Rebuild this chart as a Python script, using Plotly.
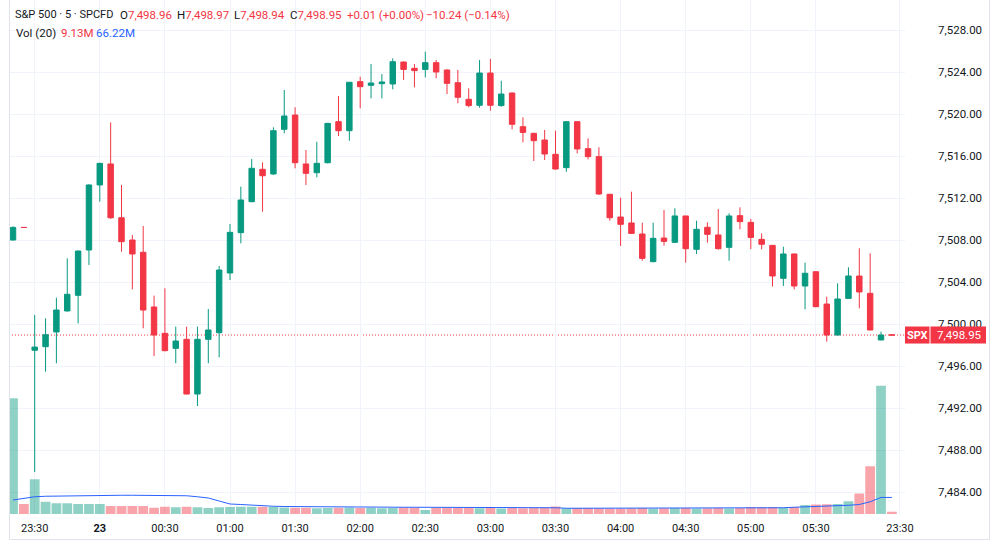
import plotly.graph_objects as go

# ---------------- data ----------------
opens = [7508.00, 7509.20, 7497.50, 7497.84, 7499.24, 7501.24, 7502.73, 7507.05, 7513.24, 7515.24,
         7510.12, 7508.00, 7506.83, 7501.62, 7499.11, 7497.68, 7498.54, 7493.33, 7498.54, 7499.17,
         7504.86, 7508.70, 7511.65, 7514.73, 7514.29, 7518.54, 7519.90, 7515.24, 7514.41, 7515.36,
         7519.27, 7518.41, 7523.08, 7522.73, 7522.89, 7522.86, 7524.95, 7524.35, 7524.25, 7524.89,
         7524.19, 7522.98, 7521.40, 7520.83, 7523.90, 7520.80, 7522.00, 7518.79, 7518.16, 7517.52,
         7516.16, 7514.89, 7519.27, 7516.70, 7515.94, 7512.35, 7510.19, 7509.62, 7508.57, 7505.94,
         7508.19, 7507.78, 7510.29, 7507.11, 7509.21, 7508.48, 7507.30, 7510.32, 7509.68, 7508.06,
         7507.49, 7504.35, 7506.67, 7503.62, 7504.98, 7501.90, 7498.95, 7502.44, 7504.57, 7502.92,
         7498.48, 7498.96]
highs = [7509.30, 7509.22, 7500.86, 7500.54, 7502.50, 7506.25, 7507.00, 7513.30, 7515.35, 7519.20,
         7513.24, 7508.48, 7509.33, 7502.70, 7503.40, 7499.75, 7499.75, 7499.75, 7501.43, 7505.52,
         7509.52, 7513.08, 7515.71, 7515.40, 7518.73, 7522.29, 7520.64, 7516.57, 7517.36, 7519.15,
         7521.71, 7523.05, 7523.55, 7524.76, 7523.81, 7525.30, 7525.00, 7524.76, 7525.93, 7525.14,
         7524.25, 7524.19, 7522.44, 7525.14, 7525.24, 7523.17, 7522.05, 7519.68, 7518.20, 7518.48,
         7518.41, 7519.30, 7519.30, 7517.68, 7516.83, 7512.40, 7512.03, 7512.60, 7509.65, 7509.65,
         7510.86, 7511.02, 7510.30, 7509.84, 7509.68, 7510.95, 7510.54, 7511.11, 7510.00, 7508.63,
         7507.50, 7507.36, 7506.70, 7505.84, 7505.00, 7502.60, 7503.87, 7505.40, 7507.21, 7506.73,
         7499.27, 7498.97]
lows = [7507.95, 7509.17, 7485.90, 7495.46, 7496.26, 7501.20, 7500.06, 7505.62, 7511.65, 7510.00,
        7506.89, 7503.30, 7499.59, 7496.95, 7497.40, 7496.26, 7493.30, 7492.19, 7496.26, 7496.83,
        7504.19, 7507.68, 7511.60, 7510.70, 7514.20, 7518.16, 7514.83, 7513.24, 7513.97, 7515.30,
        7517.90, 7517.46, 7520.54, 7521.49, 7521.49, 7522.35, 7523.24, 7522.54, 7523.49, 7523.40,
        7521.90, 7521.02, 7520.64, 7520.60, 7520.32, 7520.70, 7518.54, 7517.30, 7515.52, 7515.62,
        7514.70, 7514.50, 7516.25, 7515.68, 7512.30, 7509.84, 7507.43, 7508.60, 7506.03, 7505.87,
        7507.46, 7507.70, 7505.84, 7506.67, 7507.74, 7507.10, 7506.03, 7509.02, 7507.14, 7507.11,
        7503.56, 7503.62, 7503.30, 7501.40, 7501.60, 7498.32, 7498.90, 7502.40, 7501.49, 7499.40,
        7498.45, 7498.94]
closes = [7509.20, 7509.19, 7497.80, 7498.98, 7501.33, 7502.83, 7506.95, 7513.24, 7515.30, 7510.12,
          7507.84, 7506.67, 7501.33, 7498.95, 7497.46, 7498.38, 7493.33, 7498.54, 7499.43, 7505.14,
          7508.73, 7511.81, 7514.83, 7514.12, 7518.41, 7519.81, 7515.36, 7514.35, 7515.30, 7519.11,
          7518.41, 7523.02, 7522.60, 7522.95, 7523.05, 7524.98, 7524.25, 7524.13, 7524.89, 7524.00,
          7522.92, 7521.59, 7520.80, 7523.90, 7520.83, 7521.90, 7519.02, 7518.25, 7517.46, 7516.19,
          7514.76, 7519.27, 7516.67, 7515.94, 7512.38, 7510.12, 7509.49, 7508.63, 7506.25, 7508.16,
          7507.87, 7510.29, 7507.17, 7509.02, 7508.54, 7507.17, 7510.29, 7509.75, 7508.25, 7507.59,
          7504.57, 7506.67, 7503.62, 7504.83, 7501.65, 7498.95, 7502.38, 7504.57, 7503.05, 7499.43,
          7498.95, 7498.95]
volumes = [463, 40, 139, 49, 43, 43, 40, 40, 40, 32,
           32, 32, 32, 25, 29, 27, 29, 27, 24, 27,
           28, 29, 29, 29, 28, 26, 25, 25, 23, 24,
           25, 26, 24, 25, 23, 24, 26, 25, 16, 25,
           26, 25, 24, 23, 24, 22, 24, 23, 24, 26,
           30, 23, 24, 24, 23, 22, 22, 23, 24, 22,
           23, 24, 24, 22, 23, 24, 22, 24, 28, 27,
           28, 25, 28, 36, 38, 39, 40, 51, 82, 191,
           513, 9.13]
vol_ma = [56, 63, 69, 71, 72, 73, 74, 75, 75, 75,
          75, 75, 75, 75, 75, 75, 73, 69, 64, 52,
          40, 38, 35, 32, 31, 30, 29.5, 29, 29, 29,
          29, 29, 29, 27, 27, 27, 27, 27, 27, 27,
          27, 25, 25, 25, 25, 25, 25, 25, 25, 25,
          25, 23, 23, 23, 23, 23, 23, 23, 23, 23,
          23, 23, 23, 23, 23, 24, 24, 24, 24, 24,
          24, 25, 27, 28, 29, 31, 32, 35, 38, 49,
          66.22, 66.22]
x_tick_pos = [2, 8, 14, 20, 26, 32, 38, 44, 50, 56, 62, 68, 74, 81.75]
x_tick_text = ["23:30", "<b>23</b>", "00:30", "01:00", "01:30", "02:00", "02:30", "03:00",
               "03:30", "04:00", "04:30", "05:00", "05:30", "23:30"]
price_ticks = [7484, 7488, 7492, 7496, 7500, 7504, 7508, 7512, 7516, 7520, 7524, 7528]

# legend (header) texts
title_text = "S&amp;P 500 · 5 · SPCFD"
ohlc_labels = ["O", "H", "L", "C"]
ohlc_values = ["7,498.96", "7,498.97", "7,498.94", "7,498.95"]
change_texts = ["+0.01 (+0.00%)", "−10.24 (−0.14%)"]
vol_label = "Vol (20)"
vol_values = ["9.13M", "66.22M"]

UP = "#089981"
DN = "#F23645"
BLUE = "#2962FF"
UPV = "rgba(8,153,129,0.45)"
DNV = "rgba(242,54,69,0.45)"
TXT = "#131722"
GRID = "#f0f3fa"
BORDER = "#e0e3eb"
FONT = "Roboto"

idx = list(range(len(opens)))
vol_colors = [UPV if c >= o else DNV for o, c in zip(opens, closes)]

fig = go.Figure()
fig.add_trace(go.Bar(x=idx, y=volumes, marker=dict(color=vol_colors, line=dict(width=0)),
                     yaxis="y2", hoverinfo="skip", showlegend=False))
fig.add_trace(go.Scatter(x=idx, y=vol_ma, mode="lines", line=dict(color=BLUE, width=1),
                         yaxis="y2", hoverinfo="skip", showlegend=False))
fig.add_trace(go.Candlestick(x=idx, open=opens, high=highs, low=lows, close=closes,
                             increasing=dict(line=dict(color=UP, width=1), fillcolor=UP),
                             decreasing=dict(line=dict(color=DN, width=1), fillcolor=DN),
                             whiskerwidth=0, hoverinfo="skip", showlegend=False))

# pixel helpers for layout (plot area: x 9..905, y 0..514)
PL, PR, PT, PB = 9, 905, 0, 514
def px(xp):
    return (xp - PL) / (PR - PL)
def py(yp):
    return (PB - yp) / (PB - PT)

last_close = closes[-1]
shapes = [
    dict(type="line", xref="paper", yref="y", x0=0, x1=1, y0=last_close, y1=last_close,
         line=dict(color=DN, width=1, dash="1px,2px"), layer="below"),
    dict(type="rect", xref="paper", yref="y", x0=px(905), x1=px(929.5),
         y0=last_close - 0.81, y1=last_close + 0.81, fillcolor=DN, line=dict(width=0), layer="above"),
    dict(type="rect", xref="paper", yref="y", x0=px(930.5), x1=px(986),
         y0=last_close - 0.81, y1=last_close + 0.81, fillcolor=DN, line=dict(width=0), layer="above"),
    # widget frame
    dict(type="line", xref="paper", yref="paper", x0=px(9.5), x1=px(9.5), y0=py(0), y1=py(539.5),
         line=dict(color=BORDER, width=1), layer="above"),
    dict(type="line", xref="paper", yref="paper", x0=px(9.5), x1=px(989.5), y0=py(539.5), y1=py(539.5),
         line=dict(color=BORDER, width=1), layer="above"),
    dict(type="line", xref="paper", yref="paper", x0=px(989.5), x1=px(989.5), y0=py(0), y1=py(539.5),
         line=dict(color=BORDER, width=1), layer="above"),
]

HF = 11.5
def head(x, y, text, color=TXT, size=HF):
    return dict(xref="paper", yref="paper", x=px(x), y=py(y), xanchor="left", yanchor="middle",
                text=text, showarrow=False, borderpad=0, borderwidth=0,
                font=dict(family=FONT, size=size, color=color))

annotations = [head(15, 14.5, title_text, size=11)]
for xpos, lab, val in zip([120, 177, 234, 290], ohlc_labels, ohlc_values):
    annotations.append(head(xpos, 14.5, f"{lab}<span style='color:{DN}'>{val}</span>"))
for xpos, txt in zip([347, 426], change_texts):
    annotations.append(head(xpos, 14.5, txt, DN))
annotations.append(head(15.5, 32.5, vol_label))
annotations.append(head(61, 32.5, vol_values[0], DN))
annotations.append(head(96, 32.5, vol_values[1], BLUE))
annotations += [
    dict(xref="paper", yref="y", x=px(917.5), y=last_close, xanchor="center", yanchor="middle",
         text="<b>SPX</b>", showarrow=False, font=dict(family=FONT, size=11, color="white")),
    dict(xref="paper", yref="y", x=px(959), y=last_close, xanchor="center", yanchor="middle",
         text=f"{last_close:,.2f}", showarrow=False, font=dict(family=FONT, size=11.5, color="white")),
]

x_lo = (PL - 13) / 10.85
x_hi = (PR - 13) / 10.85
y_top = 7500 + (324 - PT) / 10.5
y_bot = 7500 - (PB - 324) / 10.5

fig.update_layout(
    width=1000, height=546, margin=dict(l=PL, r=1000 - PR, t=PT, b=546 - PB),
    paper_bgcolor="white", plot_bgcolor="white", bargap=0.1, boxgap=0.28, showlegend=False,
    font=dict(family=FONT, size=11, color=TXT),
    xaxis=dict(range=[x_lo, x_hi], tickvals=x_tick_pos, ticktext=x_tick_text, showgrid=True,
               gridcolor=GRID, gridwidth=1, zeroline=False, showline=False, ticks="",
               ticklabelstandoff=6, rangeslider=dict(visible=False), fixedrange=True,
               tickfont=dict(family=FONT, size=11, color=TXT)),
    yaxis=dict(range=[y_bot, y_top], side="right", tickvals=price_ticks, tickformat=",.2f",
               showgrid=True, gridcolor=GRID, gridwidth=1, zeroline=False, showline=False, ticks="",
               ticklabelstandoff=32, fixedrange=True, tickfont=dict(family=FONT, size=11.5, color=TXT)),
    yaxis2=dict(range=[0, (PB - PT) * 4], overlaying="y", visible=False, fixedrange=True),
    shapes=shapes, annotations=annotations,
)

fig.write_html("out.html")
